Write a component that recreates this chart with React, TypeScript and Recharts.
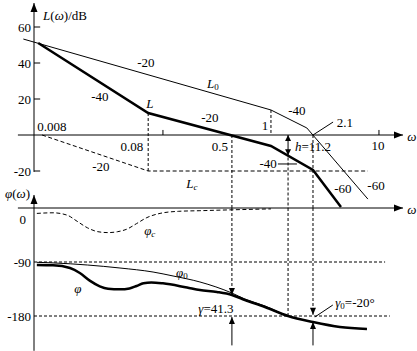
import React from 'react';
import { ComposedChart, Line, XAxis, YAxis, ReferenceLine, ReferenceDot } from 'recharts';

// asymptotic magnitude curves, [omega, dB]
const L0_PTS = [[0.0051, 53.3], [1, 13.9], [2.15, 3.9], [7.9, -35.6]];
const L_PTS = [[0.007, 51.1], [0.073, 12.2], [1, -6.1], [2.45, -19.4], [4.45, -40]];
const LC_PTS = [[0.0076, 0], [0.073, -20], [7.9, -20]];

// phase curves, [omega, deg]
const PHI0_PTS = [
    [0.0068, -90.5], [0.0096, -91.5], [0.02, -95], [0.04, -100], [0.081, -106.7], [0.124, -113.3],
    [0.22, -123.3], [0.435, -141.7], [0.574, -151.7], [0.88, -163.3], [1.44, -180], [2.45, -190],
    [4.35, -198.3], [7.74, -201.7],
];
const PHI_PTS = [
    [0.0068, -95], [0.0096, -95.5], [0.0138, -100], [0.017, -108.3], [0.021, -121], [0.026, -130.5],
    [0.031, -134.5], [0.04, -135.5], [0.049, -134], [0.057, -130], [0.066, -125.5], [0.078, -124],
    [0.1, -125.5], [0.167, -132.5], [0.22, -136.5], [0.316, -140], [0.435, -145], [0.574, -153.3],
    [0.88, -165], [1.44, -180], [2.45, -190], [4.35, -198.3], [7.74, -201.7],
];
const PHIC_PTS = [
    [0.0068, -9], [0.0096, -8], [0.013, -12], [0.016, -22], [0.02, -33], [0.025, -39.5], [0.031, -41],
    [0.038, -39.5], [0.046, -35.5], [0.057, -26], [0.071, -16], [0.094, -9], [0.14, -5.5], [0.22, -4.5],
    [0.44, -3], [1.0, -1.5],
];

const MAG_TICKS = [60, 40, 20, -20];
const PH_TICKS = [-90, -180];
const FREQ_TICKS = [0.1, 10];

// dashed verticals [omega, from, to]
const MAG_DASHED = [[0.073, 12.2, -20], [1, 13.9, 0], [0.435, 0, -40.5], [1.44, -12.5, -40.5], [2.45, 0, -40.5]];
const PH_DASHED = [[0.435, 0, -145], [1.44, 0, -180], [2.45, 0, -178]];
const PH_ARROWED = [0.435, 2.45];
const PH_UP = [[0.435, -229, -181.7], [2.45, -229, -190]];
const PH_HLINES = [[-90, 11.4], [-180, 12.6]];
const MAG_LEADERS = [[2.45, 0, 3.76, 7.2], [1.16, -16.1, 1.74, -16.1]];
const PH_LEADERS = [[2.55, -181.7, 3.74, -161.7]];

// text labels [omega, value, text]
const MAG_TEXT: [number, number, string][] = [
    [0.0124, 66.7, 'L(ω)/dB'], [0.00939, 5, '0.008'], [0.0515, -6.1, '0.08'], [0.337, -6.1, '0.5'],
    [0.88, 5.6, '1'], [9.79, -5.6, '10'], [4.84, 7.2, '2.1'], [2.45, -6.1, 'h=11.2'], [0.94, -15.6, '-40'],
    [0.0695, 40.6, '-20'], [0.29, 28.9, 'L_0'], [0.0261, 21.7, '-40'], [0.0755, 17.8, 'L'], [0.272, 10, '-20'],
    [1.74, 13.9, '-40'], [0.0266, -17.2, '-20'], [0.185, -26.7, 'L_c'], [4.64, -29.4, '-60'],
    [9.38, -27.8, '-60'], [20.2, -0.5, 'ω'],
];
const PH_TEXT: [number, number, string][] = [
    [0.0045, 25, 'φ(ω)'], [0.00503, -18.3, '0'], [0.0755, -36.7, 'φ_c'], [0.15, -106.7, 'φ_0'],
    [0.0163, -133, 'φ'], [0.309, -166.7, 'γ=41.3'], [5.99, -156.7, 'γ_0=-20°'], [20.2, -1.7, 'ω'],
];

const W_AXIS = 0.0064;
const W_TICK = 0.0073;
const W_LABEL = 0.006;
const FONT = '"Liberation Serif", "DejaVu Serif", serif';
const INK = '#000';

const pts = (a: number[][]) => a.map(([w, v]) => ({ w, v }));

const ITALIC = 'Lhωφγc';
const rich = (text: string) => {
    const out: any[] = [];
    let sub = false;
    let shifted = false;
    for (let i = 0; i < text.length; i++) {
        const ch = text[i];
        if (ch === '_') { sub = true; continue; }
        const style = ITALIC.includes(ch) ? 'italic' : 'normal';
        if (sub) {
            out.push(<tspan key={i} dy={4} fontSize={9} style={{ fontStyle: style }}>{ch}</tspan>);
            sub = false;
            shifted = true;
            continue;
        }
        out.push(<tspan key={i} dy={shifted ? -4 : undefined} style={{ fontStyle: style }}>{ch}</tspan>);
        shifted = false;
    }
    return out;
};

// line with optional arrowheads: 0 none, 1 end, 2 both
const seg = (head: number, size = 8, half = 3) => (p: any) => {
    const { x1, y1, x2, y2, stroke, strokeWidth, strokeDasharray } = p;
    const len = Math.hypot(x2 - x1, y2 - y1) || 1;
    const ux = (x2 - x1) / len;
    const uy = (y2 - y1) / len;
    const tri = (tx: number, ty: number, dx: number, dy: number) => {
        const bx = tx - dx * size;
        const by = ty - dy * size;
        return `${tx},${ty} ${bx - dy * half},${by + dx * half} ${bx + dy * half},${by - dx * half}`;
    };
    return (
        <g>
            <line x1={x1} y1={y1} x2={x2} y2={y2} stroke={stroke} strokeWidth={strokeWidth} strokeDasharray={strokeDasharray} />
            {head >= 1 && <polygon points={tri(x2, y2, ux, uy)} fill={stroke} />}
            {head === 2 && <polygon points={tri(x1, y1, -ux, -uy)} fill={stroke} />}
        </g>
    );
};

const textShape = (t: string, anchor = 'middle') => (p: any) => (
    <text x={p.cx} y={p.cy} textAnchor={anchor} dominantBaseline="central" fill={INK}
        style={{ fontFamily: FONT, fontSize: 13 }}>
        {rich(t)}
    </text>
);

const App = () => {
    return (
        <div style={{ position: 'absolute', left: 0, top: 0, background: '#fff' }}>
            <ComposedChart width={417} height={351} margin={{ top: 0, right: 0, bottom: 0, left: 0 }}>
                <XAxis dataKey="w" type="number" scale="log" domain={[0.0031, 22.5]} allowDataOverflow hide />
                <YAxis yAxisId="mag" type="number" domain={[-120, 75]} allowDataOverflow hide />
                <YAxis yAxisId="ph" type="number" domain={[-238.333, 346.667]} allowDataOverflow hide />

                {/* axes */}
                <ReferenceLine yAxisId="mag" ifOverflow="visible" stroke={INK} segment={[{ x: 0.00454, y: 0 }, { x: 16.7, y: 0 }]} shape={seg(1, 9, 3.5)} />
                <ReferenceLine yAxisId="mag" ifOverflow="visible" stroke={INK} segment={[{ x: W_AXIS, y: -20.5 }, { x: W_AXIS, y: 73.3 }]} shape={seg(1, 9, 3.5)} />
                <ReferenceLine yAxisId="ph" ifOverflow="visible" stroke={INK} segment={[{ x: 0.00454, y: 0 }, { x: 16.7, y: 0 }]} shape={seg(1, 9, 3.5)} />
                <ReferenceLine yAxisId="ph" ifOverflow="visible" stroke={INK} segment={[{ x: W_AXIS, y: -238 }, { x: W_AXIS, y: 21.7 }]} shape={seg(1, 9, 3.5)} />

                {MAG_TICKS.map((t) => (
                    <ReferenceLine key={'mt' + t} yAxisId="mag" ifOverflow="visible" stroke={INK} segment={[{ x: W_AXIS, y: t }, { x: W_TICK, y: t }]} />
                ))}
                {FREQ_TICKS.map((f) => (
                    <ReferenceLine key={'ft' + f} yAxisId="mag" ifOverflow="visible" stroke={INK} segment={[{ x: f, y: 0 }, { x: f, y: 2.8 }]} />
                ))}

                {/* guides */}
                {MAG_DASHED.map(([w, a, b]) => (
                    <ReferenceLine key={'md' + w + a} yAxisId="mag" ifOverflow="visible" stroke={INK} strokeDasharray="3 2" segment={[{ x: w, y: a }, { x: w, y: b }]} />
                ))}
                {PH_DASHED.map(([w, a, b]) => (
                    <ReferenceLine key={'pd' + w} yAxisId="ph" ifOverflow="visible" stroke={INK} strokeDasharray="3 2" segment={[{ x: w, y: a }, { x: w, y: b }]} shape={seg(PH_ARROWED.includes(w) ? 1 : 0, 7, 3)} />
                ))}
                {PH_UP.map(([w, a, b]) => (
                    <ReferenceLine key={'pu' + w} yAxisId="ph" ifOverflow="visible" stroke={INK} segment={[{ x: w, y: a }, { x: w, y: b }]} shape={seg(1, 7, 3)} />
                ))}
                {PH_HLINES.map(([v, w2]) => (
                    <ReferenceLine key={'ph' + v} yAxisId="ph" ifOverflow="visible" stroke={INK} strokeDasharray="3 2" segment={[{ x: W_AXIS, y: v }, { x: w2, y: v }]} />
                ))}
                <ReferenceLine yAxisId="mag" ifOverflow="visible" stroke={INK} segment={[{ x: 1.44, y: 0 }, { x: 1.44, y: -11.2 }]} shape={seg(2, 6, 3)} />
                {MAG_LEADERS.map(([a, b, c, d]) => (
                    <ReferenceLine key={'ml' + a} yAxisId="mag" ifOverflow="visible" stroke={INK} segment={[{ x: a, y: b }, { x: c, y: d }]} />
                ))}
                {PH_LEADERS.map(([a, b, c, d]) => (
                    <ReferenceLine key={'pl' + a} yAxisId="ph" ifOverflow="visible" stroke={INK} segment={[{ x: a, y: b }, { x: c, y: d }]} />
                ))}

                {/* series */}
                <Line yAxisId="mag" data={pts(L0_PTS)} dataKey="v" type="linear" stroke={INK} strokeWidth={1} dot={false} activeDot={false} isAnimationActive={false} />
                <Line yAxisId="mag" data={pts(L_PTS)} dataKey="v" type="linear" stroke={INK} strokeWidth={2.5} dot={false} activeDot={false} isAnimationActive={false} />
                <Line yAxisId="mag" data={pts(LC_PTS)} dataKey="v" type="linear" stroke={INK} strokeWidth={1} strokeDasharray="4 2.5" dot={false} activeDot={false} isAnimationActive={false} />
                <Line yAxisId="ph" data={pts(PHI0_PTS)} dataKey="v" type="monotone" stroke={INK} strokeWidth={1} dot={false} activeDot={false} isAnimationActive={false} />
                <Line yAxisId="ph" data={pts(PHI_PTS)} dataKey="v" type="monotone" stroke={INK} strokeWidth={2.5} dot={false} activeDot={false} isAnimationActive={false} />
                <Line yAxisId="ph" data={pts(PHIC_PTS)} dataKey="v" type="monotone" stroke={INK} strokeWidth={1} strokeDasharray="4 2.5" dot={false} activeDot={false} isAnimationActive={false} />

                {/* text */}
                {MAG_TICKS.map((t) => (
                    <ReferenceDot key={'mtl' + t} yAxisId="mag" x={W_LABEL} y={t} r={0} ifOverflow="visible" shape={textShape(String(t), 'end')} />
                ))}
                {PH_TICKS.map((t) => (
                    <ReferenceDot key={'ptl' + t} yAxisId="ph" x={W_LABEL} y={t} r={0} ifOverflow="visible" shape={textShape(String(t), 'end')} />
                ))}
                {MAG_TEXT.map(([w, v, t], i) => (
                    <ReferenceDot key={'mx' + i} yAxisId="mag" x={w} y={v} r={0} ifOverflow="visible" shape={textShape(t)} />
                ))}
                {PH_TEXT.map(([w, v, t], i) => (
                    <ReferenceDot key={'px' + i} yAxisId="ph" x={w} y={v} r={0} ifOverflow="visible" shape={textShape(t)} />
                ))}
            </ComposedChart>
        </div>
    );
};

export default App;
